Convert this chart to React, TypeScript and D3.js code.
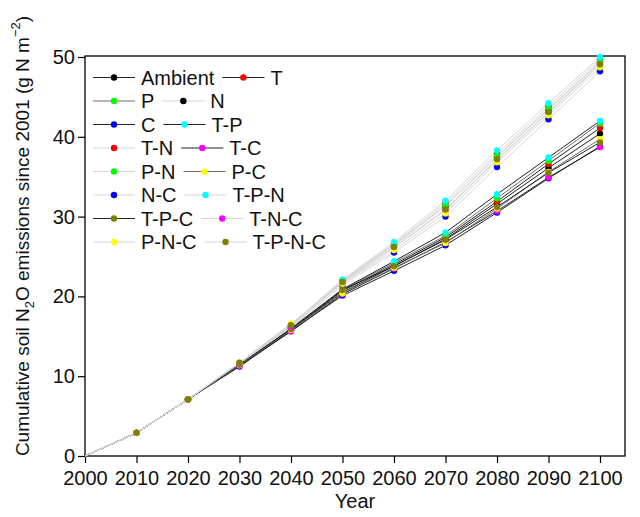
import React, { useEffect, useRef } from 'react'
import * as d3 from 'd3'

const years = [2000, 2010, 2020, 2030, 2040, 2050, 2060, 2070, 2080, 2090, 2100]

const treatments = [
  'Ambient', 'T', 'P', 'N', 'C', 'T-P', 'T-N', 'T-C',
  'P-N', 'P-C', 'N-C', 'T-P-N', 'T-P-C', 'T-N-C', 'P-N-C', 'T-P-N-C',
]

const dotColors = [
  '#000000', '#ff0000', '#00ff00', '#000000', '#0000ff', '#00ffff', '#ff0000', '#ff00ff',
  '#00ff00', '#ffff00', '#0000ff', '#00ffff', '#808000', '#ff00ff', '#ffff00', '#808000',
]

// dark = no N addition, light = N addition, mid = P with C
const lineColors = [
  '#222222', '#222222', '#6e6e6e', '#d6d6d6', '#222222', '#222222', '#d6d6d6', '#222222',
  '#d6d6d6', '#6e6e6e', '#d6d6d6', '#d6d6d6', '#222222', '#d6d6d6', '#d6d6d6', '#d6d6d6',
]

const emissions: number[][] = [
  [0, 2.9, 7.1, 11.4, 15.8, 20.5, 23.8, 27.2, 31.6, 36.1, 40.4], // Ambient
  [0, 2.9, 7.1, 11.4, 15.8, 20.7, 24.0, 27.4, 31.9, 36.6, 41.1], // T
  [0, 2.9, 7.1, 11.5, 15.9, 20.8, 24.2, 27.6, 32.3, 37.0, 41.7], // P
  [0, 2.9, 7.1, 11.6, 16.3, 21.9, 26.4, 31.3, 37.5, 43.4, 49.3], // N
  [0, 2.9, 7.1, 11.2, 15.7, 20.1, 23.2, 26.4, 30.5, 34.8, 38.8], // C
  [0, 2.9, 7.1, 11.5, 16.0, 20.9, 24.4, 28.0, 32.8, 37.4, 42.0], // T-P
  [0, 2.9, 7.1, 11.6, 16.3, 22.0, 26.6, 31.7, 37.9, 43.8, 49.7], // T-N
  [0, 2.9, 7.1, 11.3, 15.6, 20.3, 23.5, 26.8, 30.7, 34.9, 38.7], // T-C
  [0, 2.9, 7.1, 11.6, 16.4, 21.9, 26.5, 31.4, 37.6, 43.5, 49.4], // P-N
  [0, 2.9, 7.1, 11.4, 15.8, 20.4, 23.6, 26.7, 31.0, 35.6, 39.7], // P-C
  [0, 2.9, 7.1, 11.5, 16.1, 21.4, 25.5, 30.0, 36.2, 42.2, 48.2], // N-C
  [0, 2.9, 7.1, 11.7, 16.5, 22.1, 26.8, 32.0, 38.3, 44.2, 50.0], // T-P-N
  [0, 2.9, 7.1, 11.5, 15.9, 20.8, 23.8, 27.1, 31.2, 35.5, 39.3], // T-P-C
  [0, 2.9, 7.1, 11.6, 16.2, 21.7, 26.1, 30.8, 37.1, 43.0, 49.0], // T-N-C
  [0, 2.9, 7.1, 11.7, 16.6, 21.6, 25.8, 30.4, 36.8, 42.7, 48.7], // P-N-C
  [0, 2.9, 7.1, 11.7, 16.4, 21.8, 26.2, 30.9, 37.2, 43.1, 49.1], // T-P-N-C
]

const yTicks = [0, 10, 20, 30, 40, 50]

export default function App() {
  const svgRef = useRef<SVGSVGElement>(null)

  useEffect(() => {
    document.body.style.margin = '0'
    if (!svgRef.current) return
    const svg = d3.select(svgRef.current)
    svg.selectAll('*').remove()

    const font = '"Liberation Sans", Arial, sans-serif'
    const left = 85
    const right = 625
    const top = 56
    const bottom = 456

    const x = d3.scaleLinear().domain([2000, 2100]).range([left, 600])
    const y = d3.scaleLinear().domain([0, 50]).range([bottom, 57])

    // frame
    svg.append('rect')
      .attr('x', left).attr('y', top)
      .attr('width', right - left).attr('height', bottom - top)
      .attr('fill', 'none').attr('stroke', '#000').attr('stroke-width', 1.3)

    const xAxis = svg.append('g')
      .attr('transform', `translate(0,${bottom})`)
      .call(d3.axisBottom(x).tickValues(years).tickFormat(d3.format('d')).tickSize(7).tickPadding(8))
    const yAxis = svg.append('g')
      .attr('transform', `translate(${left},0)`)
      .call(d3.axisLeft(y).tickValues(yTicks).tickSize(7).tickPadding(3))

    ;[xAxis, yAxis].forEach((a) => {
      a.select('.domain').remove()
      a.selectAll('.tick line').attr('stroke', '#000').attr('stroke-width', 1.2)
      a.selectAll('text')
        .attr('fill', '#111')
        .style('font-family', font)
        .style('font-size', '20px')
    })

    const line = d3.line<number>()
      .x((_, i) => x(years[i]))
      .y((d) => y(d))

    emissions.forEach((vals, s) => {
      svg.append('path')
        .datum(vals)
        .attr('fill', 'none')
        .attr('stroke', lineColors[s])
        .attr('stroke-width', 1)
        .attr('d', line)
    })

    emissions.forEach((vals, s) => {
      svg.append('g')
        .selectAll('circle')
        .data(vals.slice(1))
        .join('circle')
        .attr('cx', (_, i) => x(years[i + 1]))
        .attr('cy', (d) => y(d))
        .attr('r', 3.2)
        .attr('fill', dotColors[s])
    })

    // axis titles
    svg.append('text')
      .attr('x', (left + right) / 2)
      .attr('y', 508)
      .attr('text-anchor', 'middle')
      .style('font-family', font)
      .style('font-size', '20px')
      .attr('fill', '#111')
      .text('Year')

    const yt = svg.append('text')
      .attr('transform', 'translate(29,236) rotate(-90)')
      .attr('text-anchor', 'middle')
      .style('font-family', font)
      .style('font-size', '19px')
      .attr('fill', '#111')
    yt.append('tspan').text('Cumulative soil N')
    yt.append('tspan').attr('dy', 5).style('font-size', '13px').text('2')
    yt.append('tspan').attr('dy', -5).text('O emissions since 2001 (g N m')
    yt.append('tspan').attr('dy', -9).style('font-size', '13px').text('\u22122')
    yt.append('tspan').attr('dy', 9).text(')')

    // legend, two entries per row
    const legend = svg.append('g')
    const rowH = 23.5
    const drawKey = (g: d3.Selection<SVGGElement, unknown, null, undefined>, s: number, x0: number, yy: number) => {
      g.append('line')
        .attr('x1', x0).attr('x2', x0 + 42)
        .attr('y1', yy).attr('y2', yy)
        .attr('stroke', lineColors[s]).attr('stroke-width', 1.2)
      g.append('circle').attr('cx', x0 + 21).attr('cy', yy).attr('r', 3.2).attr('fill', dotColors[s])
      const t = g.append('text')
        .attr('x', x0 + 48).attr('y', yy).attr('dy', '0.36em')
        .style('font-family', font).style('font-size', '20px')
        .attr('fill', '#111')
        .text(treatments[s])
      return x0 + 48 + (t.node()?.getComputedTextLength() || 0)
    }
    for (let r = 0; r < treatments.length / 2; r++) {
      const yy = 77.5 + r * rowH
      const end = drawKey(legend, r * 2, 93, yy)
      drawKey(legend, r * 2 + 1, end + 8, yy)
    }
  }, [])

  return <svg ref={svgRef} width={640} height={517} style={{ display: 'block', background: '#fff' }} />
}
